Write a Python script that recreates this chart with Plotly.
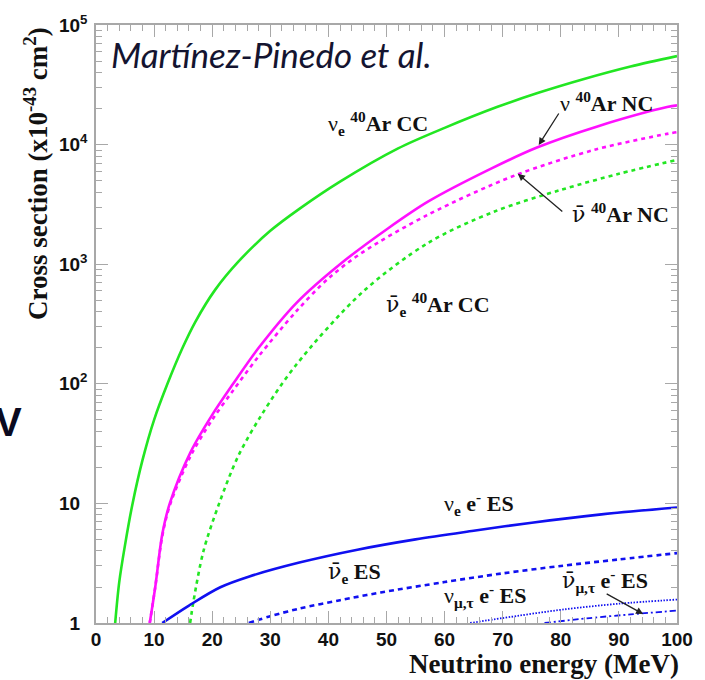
import plotly.graph_objects as go

# ---------------- data ----------------
E_nue_cc = [3.3, 4, 5, 6.3, 8, 10, 12.3, 14.9, 17.1, 20.5, 24.5, 30, 35, 42, 52, 60, 69, 76, 84, 92, 100]
S_nue_cc = [1, 2.2, 4.5, 10, 23, 50, 100, 200, 330, 610, 1050, 1900, 2900, 4900, 9300, 13800, 20600, 27000, 35400, 45000, 55000]

E_nu_nc = [9.25, 10.2, 11.4, 12.7, 16.3, 20, 23.6, 28, 34.6, 42, 50.3, 57.2, 68, 76, 86.3, 98.3, 100]
S_nu_nc = [1, 2, 5.5, 10, 27, 55, 100, 200, 480, 1000, 2000, 3350, 6300, 9500, 14200, 20600, 21300]

E_nubar_nc = [9.25, 10.2, 11.4, 12.7, 16.3, 20, 23.6, 28, 34.4, 40, 45.8, 57.2, 72, 86, 98.3, 100]
S_nubar_nc = [1, 2, 5.3, 9.6, 25, 50, 88, 170, 400, 760, 1250, 2600, 5500, 9100, 12300, 12700]

E_nuebar_cc = [16.2, 16.8, 18.5, 21.2, 24.5, 28.5, 34.4, 45.8, 57.2, 68.6, 80, 90, 100]
S_nuebar_cc = [1, 1.54, 4, 10, 25, 55, 143, 580, 1510, 2760, 4180, 5700, 7450]

E_nue_es = [11.4, 16, 21.4, 26.4, 35, 45, 55, 65, 75, 87, 100]
S_nue_es = [1, 1.4, 1.99, 2.45, 3.2, 4.1, 5.0, 5.9, 6.9, 8.1, 9.25]

E_nuebar_es = [26.3, 30, 35, 42, 49, 60, 70, 80, 90, 100]
S_nuebar_es = [1, 1.14, 1.32, 1.55, 1.8, 2.2, 2.6, 3.0, 3.4, 3.84]

E_numu_es = [64.4, 70, 80.6, 90, 100]
S_numu_es = [1, 1.1, 1.3, 1.45, 1.57]

E_numubar_es = [77.2, 85, 92, 100]
S_numubar_es = [1, 1.1, 1.18, 1.27]

x_tickvals = [0, 10, 20, 30, 40, 50, 60, 70, 80, 90, 100]
y_tickvals = [1, 10, 100, 1000, 10000, 100000]
pad = "<sup><span style='color:rgba(0,0,0,0)'>2</span></sup>"
y_ticktext = ["1" + pad, "10" + pad, "10<sup>2</sup>", "10<sup>3</sup>", "10<sup>4</sup>", "10<sup>5</sup>"]
y_minor = [m * 10 ** d for d in range(5) for m in range(2, 10)]

# ---------------- figure ----------------
GREEN = "#22e622"
MAG = "#ff10ff"
BLUE = "#1010f0"

fig = go.Figure()

def add(x, y, color, dash="solid", width=2.6):
    fig.add_trace(go.Scatter(x=x, y=y, mode="lines", showlegend=False,
                             line=dict(color=color, width=width, dash=dash, shape="spline", smoothing=0.9),
                             hoverinfo="skip"))

add(E_nue_cc, S_nue_cc, GREEN)
add(E_nuebar_cc, S_nuebar_cc, GREEN, "4px,4px")
add(E_nubar_nc, S_nubar_nc, MAG, "4px,4px")
add(E_nu_nc, S_nu_nc, MAG)
add(E_nue_es, S_nue_es, BLUE)
add(E_nuebar_es, S_nuebar_es, BLUE, "5px,4px")
add(E_numu_es, S_numu_es, BLUE, "1.5px,1.5px", 1.8)
add(E_numubar_es, S_numubar_es, BLUE, "6px,3px,2px,3px", 1.8)

# pixel -> paper helpers for layout placement
L, R, T, B = 96, 680, 20, 623
def px(xp):
    return (xp - L) / (R - L)
def py(yp):
    return (B - yp) / (B - T)

SERIF = "Liberation Serif"
NUBAR = "<span style='font-family:DejaVu Serif'>ν̄</span>"
ann = []
def text(t, xp, yp, size=22, xanchor="left", family=SERIF, color="#111111", **kw):
    ann.append(dict(text=t, x=px(xp), y=py(yp), xref="paper", yref="paper",
                    xanchor=xanchor, yanchor="middle", showarrow=False,
                    font=dict(family=family, size=size, color=color), **kw))

text("<i>Martínez-Pinedo et al.</i>", 109, 49, size=35, family="Lato", color="#141430")
text("ν<sub><b>e</b></sub> <sup><b>40</b></sup><b>Ar CC</b>", 327, 119)
text("ν <sup><b>40</b></sup><b>Ar NC</b>", 560, 98)
text(NUBAR + " <sup><b>40</b></sup><b>Ar NC</b>", 572, 210)
text(NUBAR + "<sub><b>e</b></sub> <sup><b>40</b></sup><b>Ar CC</b>", 385, 302)
text("ν<sub><b>e</b></sub> <b>e<sup>-</sup> ES</b>", 444, 502)
text(NUBAR + "<sub><b>e</b></sub> <b>ES</b>", 327, 573)
text("ν<sub><b>μ,τ</b></sub> <b>e<sup>-</sup> ES</b>", 444, 595)
text(NUBAR + "<sub><b>μ,τ</b></sub> <b>e<sup>-</sup> ES</b>", 562, 580)

# axis titles
ann.append(dict(text="<b>Cross section (x10<sup>-43</sup> cm<sup>2</sup>)</b>", x=px(35), y=py(170),
                xref="paper", yref="paper", xanchor="center", yanchor="middle", showarrow=False,
                textangle=-90, font=dict(family=SERIF, size=27, color="#111111")))
ann.append(dict(text="<b>Neutrino energy (MeV)</b>", x=px(684), y=py(664),
                xref="paper", yref="paper", xanchor="right", yanchor="middle", showarrow=False,
                font=dict(family=SERIF, size=27, color="#111111")))
# slide letter at left edge
ann.append(dict(text="<b>V</b>", x=px(24), y=py(420), xref="paper", yref="paper",
                xanchor="right", yanchor="middle", showarrow=False,
                font=dict(family="Liberation Sans", size=40, color="#0a0a20")))

# arrows
def arrow(x0, y0, x1, y1):
    ann.append(dict(text="", x=px(x1), y=py(y1), xref="paper", yref="paper",
                    ax=x0 - x1, ay=y0 - y1, axref="pixel", ayref="pixel",
                    showarrow=True, arrowhead=2, arrowsize=1.1, arrowwidth=1.3, arrowcolor="#222222"))

arrow(562, 108, 541, 141)
arrow(566, 209, 520, 170)
arrow(608, 593, 646, 614)

AX = "#a8a8a8"
fig.update_layout(
    width=705, height=680,
    margin=dict(l=L, r=705 - R, t=T, b=680 - B),
    paper_bgcolor="white", plot_bgcolor="white",
    annotations=ann,
    xaxis=dict(range=[0, 100], tickmode="array", tickvals=x_tickvals,
               ticks="inside", ticklen=12, tickwidth=1.2, tickcolor=AX,
               showline=True, linecolor=AX, linewidth=1.5, mirror="ticks",
               showgrid=False, zeroline=False,
               tickfont=dict(family="Liberation Sans", size=19, color="#111111", weight="bold"),
               ticklabelstandoff=-2,
               minor=dict(ticks="inside", ticklen=6, tickwidth=1, tickcolor=AX, dtick=2, showgrid=False)),
    yaxis=dict(type="log", range=[0, 5], tickmode="array", tickvals=y_tickvals, ticktext=y_ticktext,
               ticks="inside", ticklen=12, tickwidth=1.2, tickcolor=AX,
               showline=True, linecolor=AX, linewidth=1.5, mirror="ticks",
               showgrid=False, zeroline=False,
               tickfont=dict(family="Liberation Sans", size=19, color="#111111", weight="bold"),
               ticklabelstandoff=3,
               minor=dict(ticks="inside", ticklen=6, tickwidth=1, tickcolor=AX,
                          tickmode="array", tickvals=y_minor, showgrid=False)),
)

fig.write_html("out.html", config={"displayModeBar": False},
               post_script="document.body.style.margin='0px';")
